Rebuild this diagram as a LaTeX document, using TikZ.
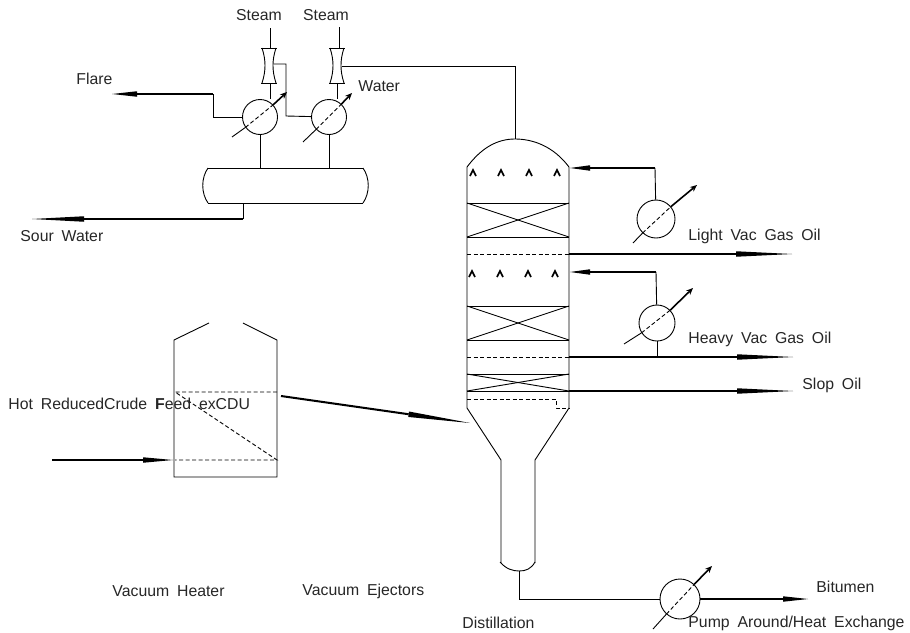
\documentclass[tikz,border=0pt]{standalone}
\usepackage{fontspec}
\setmainfont[WordSpace=1.8]{Liberation Sans}
\usetikzlibrary{arrows.meta, positioning}
\tikzset{
  label/.style={anchor=west, inner sep=0pt, font=\fontsize{15.8}{18}\selectfont, text=black!85},
  hx/.style={draw, circle, minimum size=#1, inner sep=0pt},
  dashline/.style={line width=0.9pt, dash pattern=on 4pt off 2.5pt},
  product/.style={line width=1.6pt, -{Triangle[length=#1, width=5.5pt, line width=0pt]}},
  ctrl/.style={line width=1.6pt, -{Stealth[length=7pt, width=6pt, line width=0pt]}}
}
\begin{document}
\begin{tikzpicture}[x=1pt, y=-1pt, line width=0.9pt]
  \useasboundingbox (0,0) rectangle (910,632);

  % Ejectors
  \foreach \x/\y in {269/48, 337/48} {
    \draw (\x-8,\y) -- (\x+8,\y);
    \draw (\x-8,\y+35) -- (\x+8,\y+35);
    \draw (\x-7,\y) .. controls (\x-3,\y+12) and (\x-3,\y+23) .. (\x-7,\y+35);
    \draw (\x+7,\y) .. controls (\x+3,\y+12) and (\x+3,\y+23) .. (\x+7,\y+35);
  }
  \coordinate (ejAtop) at (270,48);
  \coordinate (ejAbot) at (270,83);
  \coordinate (ejAout) at (274,64);
  \coordinate (ejBtop) at (339,48);
  \coordinate (ejBbot) at (337,83);
  \coordinate (ejBout) at (342,66);

  % Condensers and coolers
  \node[hx=35pt] (hxA) at (260,117) {};
  \node[hx=35pt] (hxB) at (329,117) {};
  \node[hx=38pt] (hxC) at (656,219) {};
  \node[hx=36pt] (hxD) at (657,323) {};
  \node[hx=40pt] (hxE) at (680,599) {};
  \foreach \hx/\tailx/\taily/\tipx/\tipy in {hxA/232/137/287/92, hxB/303/142/352/93,
      hxC/633/243/697/185, hxD/624/344/693/288, hxE/653/629/712/566} {
    \coordinate (tail) at (\tailx,\taily);
    \coordinate (tip) at (\tipx,\tipy);
    \path (tail) -- (\hx) coordinate[pos=1] (inA);
    \path (tip) -- (\hx) coordinate[pos=1] (inB);
    \draw[dashline] (inA) -- (inB);
    \draw (tail) -- (inA);
    \draw[ctrl] (inB) -- (tip);
  }

  % Drum
  \draw (208,168) -- (363,168);
  \draw (208,203) -- (363,203);
  \draw (208,168) .. controls (201,178) and (201,193) .. (208,203);
  \draw (363,168) .. controls (370,178) and (370,193) .. (363,203);
  \coordinate (drumA) at (260,168);
  \coordinate (drumB) at (329,168);
  \coordinate (drumOut) at (243,203);

  % Column
  \draw (467,167) -- (467,408) -- (501,460) -- (501,563);
  \draw (569,167) -- (569,408) -- (535,460) -- (535,563);
  \draw (467,167) .. controls (482,147) and (498,139) .. (515,139)
    .. controls (534,139) and (554,147) .. (569,167); % dome
  \draw (500,562) .. controls (506,569) and (513,571) .. (519,571)
    .. controls (526,571) and (531,569) .. (535,562); % bottom
  \coordinate (colTop) at (515,139);
  \coordinate (colBot) at (519,571);
  \foreach \y in {203,237,306,340,374,391}
    \draw (467,\y) -- (569,\y);
  \draw (467,203) -- (569,237); \draw (467,237) -- (569,203);
  \draw (467,306) -- (569,340); \draw (467,340) -- (569,306);
  \draw (467,374) -- (569,391); \draw (467,391) -- (569,374);
  \draw[dashline] (467,254) -- (569,254);
  \draw[dashline] (467,357) -- (569,357);
  \draw[dashline] (467,399) -- (556,399) -- (556,408) -- (569,408);
  \foreach \x in {473,501,529,557}
    \draw[line width=1.6pt] (\x-3,176) -- (\x,170) -- (\x+3,176);
  \foreach \x in {472,500,528,555}
    \draw[line width=1.6pt] (\x-3,277) -- (\x,271) -- (\x+3,277);

  % Heater
  \draw (209,323) -- (174,340) -- (174,477) -- (277,477) -- (277,340) -- (243,323);
  \draw[dashline] (277,392) -- (175,392) -- (277,460) -- (175,460);

  % Free ends of the lines
  \coordinate (flareEnd) at (112,94);
  \coordinate (flareBend) at (213,94);
  \coordinate (sourBend) at (243,219);
  \coordinate (sourEnd) at (32,219);
  \coordinate (feedStart) at (52,460);
  \coordinate (feedIn) at (173,460);
  \coordinate (heaterOut) at (281,396);
  \coordinate (colIn) at (470,423);
  \coordinate (refluxA) at (570,168);
  \coordinate (refluxB) at (570,272);
  \coordinate (lightOut) at (569,254);
  \coordinate (lightEnd) at (792,254);
  \coordinate (heavyOut) at (569,357);
  \coordinate (heavyEnd) at (793,357);
  \coordinate (slopOut) at (569,391);
  \coordinate (slopEnd) at (793,391);
  \coordinate (bitEnd) at (808,599);

  % Labels
  \node[label, anchor=center] (steamA) at (259,15) {Steam};
  \node[label, anchor=center] (steamB) at (326,15) {Steam};
  \node[label] (flare) at (76,79) {Flare};
  \node[label] (water) at (358,86) {Water};
  \node[label] (sour) at (20,236) {Sour Water};
  \node[label] (light) at (688,236) {Light Vac Gas Oil};
  \node[label] (heavy) at (688,339) {Heavy Vac Gas Oil};
  \node[label] (slop) at (802,385) {Slop Oil};
  \node[label] (hot) at (8,404) {Hot ReducedCrude \textbf{F}eed exCDU};
  \node[label] (heater) at (112,591) {Vacuum Heater};
  \node[label] (ejectors) at (302,591) {Vacuum Ejectors};
  \node[label] (dist) at (462,623) {Distillation};
  \node[label] (bitumen) at (816,587) {Bitumen};
  \node[label] (pump) at (688,623) {Pump Around/Heat Exchange};

  % Thin lines
  \draw (ejAtop) -- ++(0,-20);
  \draw (ejBtop) -- ++(0,-21);
  \draw (ejAbot) -- (ejAbot |- hxA.north);
  \draw (ejBbot) -- (ejBbot |- hxB.north);
  \draw (ejAout) -| (286,116) -- (hxB);
  \draw (ejBout) -| (colTop);
  \draw (hxA) -- (drumA);
  \draw (hxB) -- (drumB);
  \draw (hxA) -- (213,117) -- (flareBend);
  \draw (drumOut) -- (sourBend);
  \draw (colBot) |- (hxE);
  \draw (hxC) -- (655,168);
  \draw (hxD) -- (656,272);
  \draw (hxD) -- (657,357);

  % Product lines
  \draw[product=25pt] (flareBend) -- (flareEnd);
  \draw[product=52pt] (sourBend) -- (sourEnd);
  \draw[product=30pt] (feedStart) -- (feedIn);
  \draw[product=62pt, line width=2pt] (heaterOut) -- (colIn);
  \draw[product=20pt] (655,168) -- (refluxA);
  \draw[product=20pt] (656,272) -- (refluxB);
  \draw[product=56pt] (lightOut) -- (lightEnd);
  \draw[product=56pt, line width=2.6pt] (heavyOut) -- (heavyEnd);
  \draw[product=56pt] (slopOut) -- (slopEnd);
  \draw[product=25pt] (hxE) -- (bitEnd);
\end{tikzpicture}
\end{document}
